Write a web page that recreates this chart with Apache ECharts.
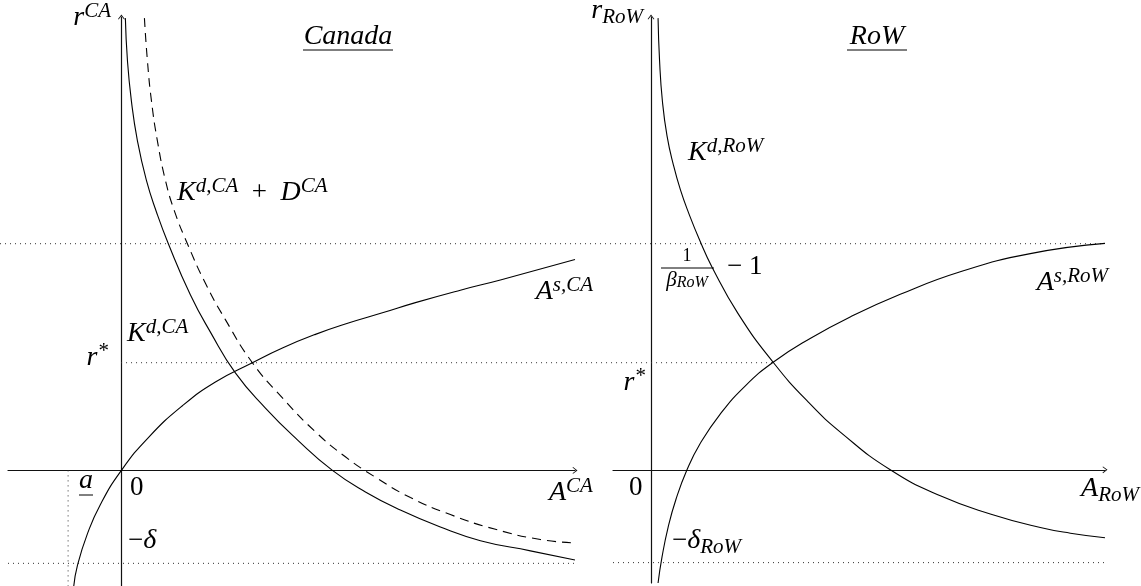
<!DOCTYPE html>
<html>
<head>
<meta charset="utf-8">
<title>Canada / RoW</title>
<script src="https://cdn.jsdelivr.net/npm/echarts@6.0.0/dist/echarts.min.js"></script>
<style>
  html, body { margin: 0; padding: 0; background: #fff; }
  #chart { width: 1141px; height: 586px; }
</style>
</head>
<body>
<div id="chart"></div>
<script>
// ---- values (axis units, origin at the axes crossing) ----
// Canada panel
var kdCA = [[0.035,3.99],[0.053,3.62],[0.088,3.26],[0.141,2.91],[0.220,2.56],[0.309,2.28],[0.414,2.00],
  [0.608,1.55],[0.785,1.22],[1.005,0.86],[1.270,0.55],[1.552,0.27],[1.861,0],[2.152,-0.19],[2.460,-0.35],
  [2.813,-0.50],[3.166,-0.62],[3.607,-0.71],[4.00,-0.79]];
var kdPlusDCA = [[0.203,3.99],[0.229,3.62],[0.265,3.26],[0.317,2.91],[0.388,2.56],[0.467,2.29],[0.582,2.00],
  [0.741,1.65],[0.917,1.33],[1.155,0.95],[1.420,0.64],[1.711,0.34],[1.975,0.12],[2.240,-0.06],[2.549,-0.24],
  [2.901,-0.39],[3.298,-0.52],[3.695,-0.61],[4.00,-0.64]];
var asCA = [[-0.42,-1.02],[-0.388,-0.84],[-0.300,-0.56],[-0.185,-0.30],[0,0],[0.238,0.29],[0.538,0.57],
  [0.829,0.78],[1.155,0.95],[1.420,1.08],[1.711,1.20],[2.002,1.30],[2.302,1.39],[2.593,1.48],[2.989,1.59],
  [3.342,1.68],[4.00,1.86]];
// RoW panel
var kdRoW = [[0.062,3.99],[0.075,3.62],[0.100,3.26],[0.141,2.95],[0.198,2.69],[0.260,2.47],[0.331,2.27],
  [0.428,2.03],[0.538,1.79],[0.767,1.38],[1.076,0.95],[1.384,0.60],[1.684,0.32],[2.108,0],[2.549,-0.23],
  [2.989,-0.39],[3.430,-0.51],[3.695,-0.56],[4.00,-0.60]];
var asRoW = [[0.062,-1.00],[0.097,-0.77],[0.150,-0.51],[0.220,-0.26],[0.317,0],[0.432,0.23],[0.608,0.49],
  [0.829,0.74],[1.076,0.95],[1.402,1.16],[1.755,1.35],[2.196,1.55],[2.725,1.75],[3.342,1.91],[4.00,2.00]];

// reference levels
var upperLevel = 2.0;     // 1/beta_RoW - 1
var rStar = 0.95;         // r*
var minusDelta = -0.82;   // -delta
var aBar = -0.47;         // a (underlined)
var rStarRoWx = 1.076;    // where r* meets the RoW curves

// axis extents
var caX = [-1, 4], caY = [-1.02, 4];
var rowX = [-0.335, 4], rowY = [-1, 4];
var rowOffset = 4.674;    // RoW origin, in Canada x units
var pageLeft = -1.067;    // page edge, in Canada x units

var chart = echarts.init(document.getElementById('chart'));

var SERIF = '"Liberation Serif", "Times New Roman", serif';
function f(style, size) { return style + ' ' + size + 'px ' + SERIF; }
var rich = {
  m: {font: f('italic', 28), lineHeight: 34, fill: '#000'},
  u: {font: f('normal', 27), lineHeight: 34, fill: '#000'},
  p: {font: f('italic', 21), lineHeight: 20, verticalAlign: 'top', fill: '#000'},
  b: {font: f('italic', 21), lineHeight: 19, verticalAlign: 'bottom', fill: '#000'},
  n: {font: f('normal', 18), lineHeight: 20, fill: '#000'},
  s: {font: f('italic', 21), lineHeight: 22, fill: '#000'},
  t: {font: f('italic', 16), lineHeight: 14, verticalAlign: 'bottom', fill: '#000'}
};

// text whose main baseline sits at "baseline"
function label(text, x, baseline, align) {
  return {
    type: 'text', silent: true, z: 10,
    style: {text: text, x: x, y: baseline - 26.5, align: align || 'left', verticalAlign: 'top',
      rich: rich, font: f('italic', 28), fill: '#000'}
  };
}
function rule(x1, x2, y) {
  return {type: 'line', silent: true, z: 10, shape: {x1: x1, y1: y, x2: x2, y2: y}, style: {stroke: '#000', lineWidth: 1}};
}

var chevron = 'path://M5,0 L10,6.6 L9.1,7.4 L5,2.1 L0.9,7.4 L0,6.6 Z';
function valueAxis(grid, ext, visible) {
  return {
    gridIndex: grid, type: 'value', min: ext[0], max: ext[1], show: visible,
    axisLine: {onZero: true, symbol: ['none', chevron], symbolSize: [7, 5], lineStyle: {color: '#111', width: 1.2}},
    axisTick: {show: false}, axisLabel: {show: false}, splitLine: {show: false}
  };
}

function curve(data, grid, dash) {
  return {
    type: 'line', xAxisIndex: grid, yAxisIndex: grid, data: data,
    smooth: 0.5, showSymbol: false, silent: true, clip: false,
    lineStyle: {color: '#000', width: 1.1, type: dash || 'solid'}
  };
}
function dotted(data, grid) {
  return {
    type: 'line', xAxisIndex: grid, yAxisIndex: grid, data: data,
    showSymbol: false, silent: true, clip: false, z: 1,
    lineStyle: {color: '#333', width: 1, type: [1, 4]}
  };
}

chart.setOption({
  animation: false,
  backgroundColor: '#fff',
  grid: [
    {left: 8, top: 17, width: 567, height: 569},
    {left: 613, top: 17, width: 492, height: 566},
    {left: 0, top: 17, width: 1105, height: 569}   // overlay for levels shared by both panels
  ],
  xAxis: [valueAxis(0, caX, true), valueAxis(1, rowX, true), valueAxis(2, [pageLeft, rowOffset + rowX[1]], false)],
  yAxis: [valueAxis(0, caY, true), valueAxis(1, rowY, true), valueAxis(2, caY, false)],
  series: [
    // reference levels
    dotted([[pageLeft, upperLevel], [rowOffset + rowX[1], upperLevel]], 2),
    dotted([[0, rStar], [rowOffset + rStarRoWx, rStar]], 2),
    dotted([[caX[0], minusDelta], [caX[1], minusDelta]], 0),
    dotted([[rowX[0], minusDelta], [rowX[1], minusDelta]], 1),
    dotted([[aBar, 0], [aBar, caY[0]]], 0),
    // curves
    curve(kdCA, 0),
    curve(kdPlusDCA, 0, [9, 6]),
    curve(asCA, 0),
    curve(kdRoW, 1),
    curve(asRoW, 1)
  ],
  graphic: [
    label('{m|r}{p|CA}', 111, 27, 'right'),
    label('{m|Canada}', 348, 46, 'center'),
    rule(303, 393, 50),
    label('{m|K}{p|d,CA}{u|  +  }{m|D}{p|CA}', 177, 202),
    label('{m|A}{p|s,CA}', 593, 301, 'right'),
    label('{m|K}{p|d,CA}', 127, 343),
    label('{m|r}{p|*}', 108, 367, 'right'),
    label('{m|a}', 79, 490),
    rule(79, 93, 495),
    label('{u|0}', 130, 497),
    label('{u|−}{m|δ}', 128, 550),
    label('{m|A}{p|CA}', 549, 502),

    label('{m|r}{b|RoW}', 643, 20, 'right'),
    label('{m|RoW}', 877, 46, 'center'),
    rule(847, 907, 50),
    label('{m|K}{p|d,RoW}', 688, 162),
    {type: 'text', silent: true, z: 10, style: {text: '{n|1}', x: 687, y: 246, align: 'center', verticalAlign: 'top', rich: rich}},
    rule(661, 714, 268),
    {type: 'text', silent: true, z: 10, style: {text: '{s|β}{t|RoW}', x: 687, y: 269, align: 'center', verticalAlign: 'top', rich: rich}},
    label('{u|− 1}', 727, 276),
    label('{m|A}{p|s,RoW}', 1108, 292, 'right'),
    label('{m|r}{p|*}', 645, 392, 'right'),
    label('{u|0}', 629, 497),
    label('{m|A}{b|RoW}', 1139, 498, 'right'),
    label('{u|−}{m|δ}{b|RoW}', 672, 550)
  ]
});
</script>
</body>
</html>
